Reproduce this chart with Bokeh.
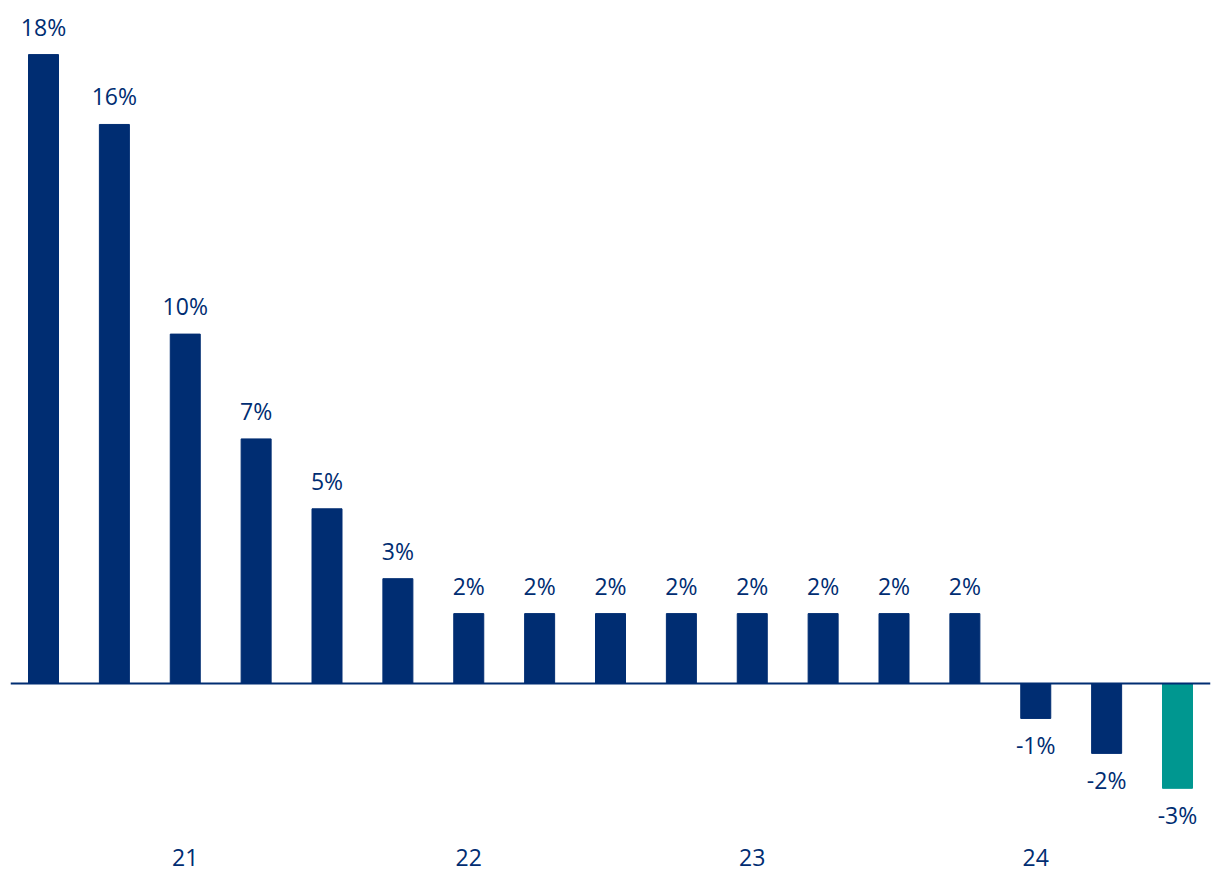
from bokeh.plotting import figure
from bokeh.models import ColumnDataSource, Range1d, Span, FixedTicker
from bokeh.core.properties import value
from bokeh.embed import file_html
from bokeh.resources import INLINE

# Data
values = [18, 16, 10, 7, 5, 3, 2, 2, 2, 2, 2, 2, 2, 2, -1, -2, -3]
tick_positions = [2, 6, 10, 14]
tick_labels = ["21", "22", "23", "24"]

NAVY = "#002D72"
TEAL = "#009790"
FONT = "Open Sans"

n = len(values)
xs = list(range(n))
colors = [NAVY] * (n - 1) + [TEAL]
labels = [f"{v}%" for v in values]
offsets = [-28 if v >= 0 else 27 for v in values]

src = ColumnDataSource(dict(x=xs, top=values, color=colors, label=labels, yoff=offsets))

W, H = 1220, 896
px_per_x = 70.875
half = 33 / px_per_x
px_per_y = 34.94
zero_px = 683
frame_bottom = 840

p = figure(width=W, height=H, output_backend="svg", toolbar_location=None,
           x_range=Range1d(-half, n - 1 + half),
           y_range=Range1d(-(frame_bottom - zero_px) / px_per_y, zero_px / px_per_y),
           min_border_left=10, min_border_right=10, min_border_top=0,
           min_border_bottom=H - frame_bottom)
p.outline_line_color = None
p.background_fill_color = "white"
p.border_fill_color = "white"
p.xgrid.visible = False
p.ygrid.visible = False
p.yaxis.visible = False

p.vbar(x="x", top="top", bottom=0, width=30 / px_per_x, color="color", source=src)

p.add_layout(Span(location=0, dimension="width", line_color=NAVY, line_width=2))

p.text(x="x", y="top", text="label", source=src, y_offset="yoff",
       text_align="center", text_baseline="alphabetic",
       text_font=value(FONT), text_font_size="23px", text_color=NAVY)

ax = p.xaxis[0]
ax.ticker = FixedTicker(ticks=tick_positions)
ax.major_label_overrides = {pos: lab for pos, lab in zip(tick_positions, tick_labels)}
ax.axis_line_color = None
ax.major_tick_line_color = None
ax.minor_tick_line_color = None
ax.major_tick_out = 0
ax.major_tick_in = 0
ax.major_label_standoff = 8
ax.major_label_text_font = FONT
ax.major_label_text_font_size = "23px"
ax.major_label_text_color = NAVY

open("out.html", "w").write(file_html(p, INLINE))
